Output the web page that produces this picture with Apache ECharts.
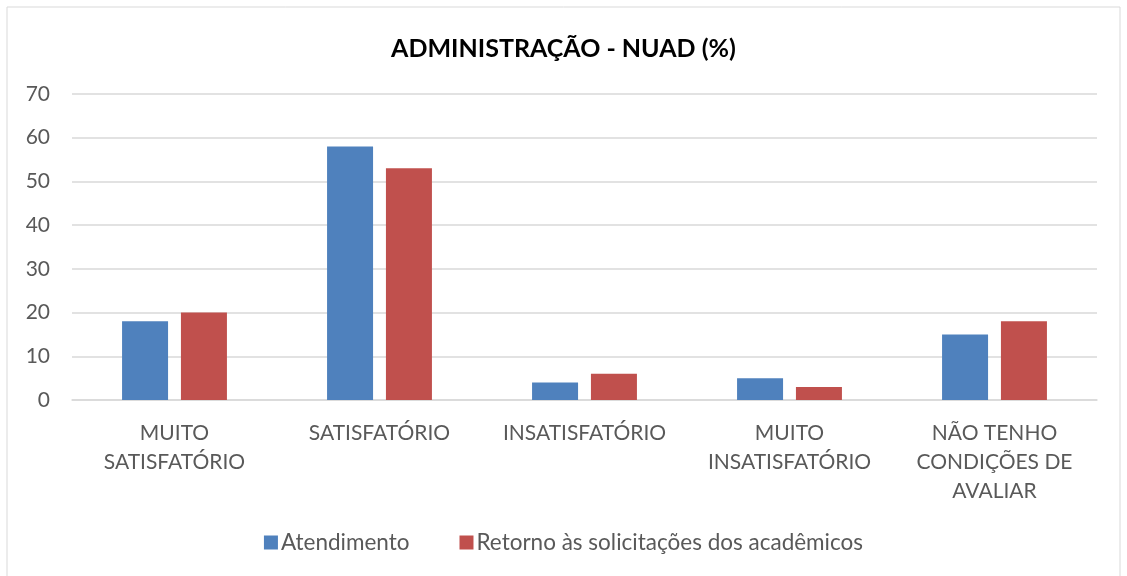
<!DOCTYPE html>
<html>
<head>
<meta charset="utf-8">
<script src="https://cdn.jsdelivr.net/npm/echarts@6/dist/echarts.min.js"></script>
<style>
html,body{margin:0;padding:0;background:#fff;}
#chart{width:1127px;height:576px;}
</style>
</head>
<body>
<div id="chart"></div>
<script>
// categorias e valores (%)
var categorias = ["MUITO\nSATISFATÓRIO", "SATISFATÓRIO", "INSATISFATÓRIO", "MUITO\nINSATISFATÓRIO", "NÃO TENHO\nCONDIÇÕES DE\nAVALIAR"];
var atendimento = [18, 58, 4, 5, 15];
var retorno = [20, 53, 6, 3, 18];
var nomesSeries = ["Atendimento", "Retorno às solicitações dos acadêmicos"];

var fonte = "Lato, 'Open Sans', sans-serif";
var myChart = echarts.init(document.getElementById("chart"));
var option = {
	backgroundColor: "#fff",
	textStyle: {fontFamily: fonte},
	title: {
		text: "ADMINISTRAÇÃO - NUAD (%)",
		left: "center",
		top: 31,
		textStyle: {color: "#000", fontSize: 25, fontWeight: "bold", fontFamily: fonte}
	},
	graphic: [{
		type: "rect",
		shape: {x: 7, y: 7, width: 1113, height: 580},
		style: {fill: null, stroke: "#d9d9d9", lineWidth: 1},
		silent: true
	}],
	color: ["#4f81bd", "#c0504d"],
	legend: {
		bottom: 17,
		left: "center",
		itemWidth: 14,
		itemHeight: 14,
		itemGap: 50,
		icon: "rect",
		textStyle: {color: "#595959", fontSize: 22.5, fontFamily: fonte, padding: [0, 0, 0, -2]},
		data: nomesSeries
	},
	grid: {left: 72, right: 30, top: 94, bottom: 176},
	xAxis: {
		type: "category",
		data: categorias,
		axisLine: {lineStyle: {color: "#d9d9d9", width: 1.5}},
		axisTick: {show: false},
		axisLabel: {color: "#595959", fontSize: 21, lineHeight: 29, margin: 19, interval: 0, fontFamily: fonte}
	},
	yAxis: {
		type: "value",
		min: 0,
		max: 70,
		interval: 10,
		axisLine: {show: false},
		axisTick: {show: false},
		splitLine: {lineStyle: {color: "#d9d9d9", width: 1.5}},
		axisLabel: {color: "#595959", fontSize: 21, margin: 22, fontFamily: fonte}
	},
	series: [{
		name: nomesSeries[0],
		type: "bar",
		data: atendimento,
		barWidth: 46,
		barGap: "28%"
	}, {
		name: nomesSeries[1],
		type: "bar",
		data: retorno,
		barWidth: 46,
		barGap: "28%"
	}]
};
myChart.setOption(option);
</script>
</body>
</html>
